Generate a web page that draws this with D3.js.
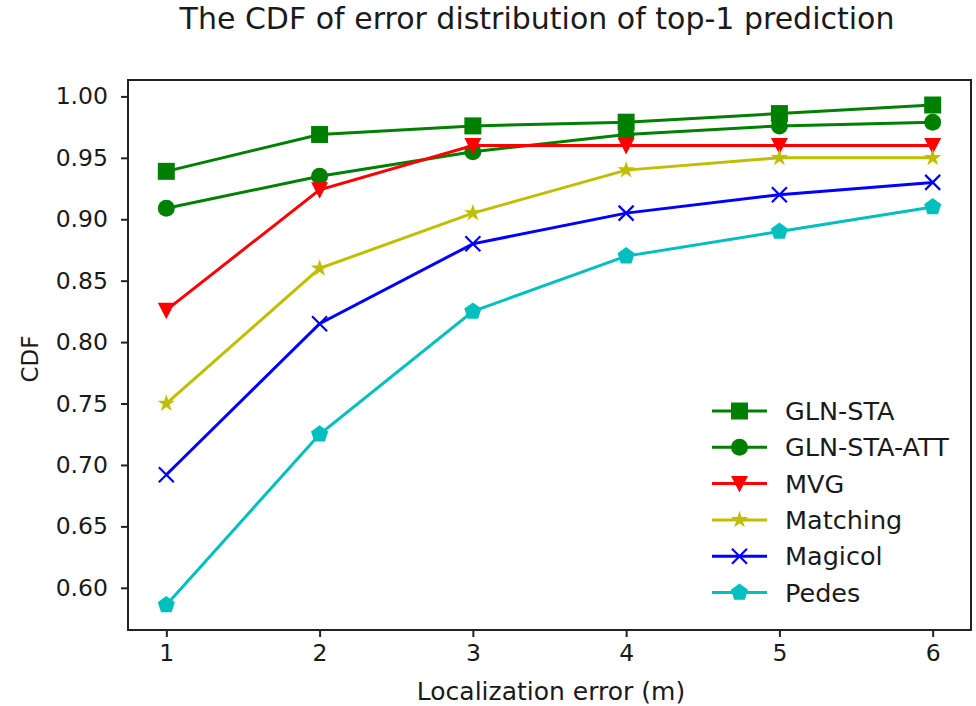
<!DOCTYPE html>
<html>
<head>
<meta charset="utf-8">
<script src="https://cdn.jsdelivr.net/npm/d3@7"></script>
<style>
  html, body { margin: 0; padding: 0; background: #fff; }
  svg { display: block; font-family: "DejaVu Sans", sans-serif; }
</style>
</head>
<body>
<svg id="chart" width="976" height="706"></svg>
<script>
// Localization error in metres (x axis categories)
const errors = [1, 2, 3, 4, 5, 6];

// CDF values per method
const glnSta    = [0.939, 0.969, 0.976, 0.979, 0.986, 0.993];
const glnStaAtt = [0.909, 0.935, 0.955, 0.969, 0.976, 0.979];
const mvg       = [0.826, 0.924, 0.960, 0.960, 0.960, 0.960];
const matching  = [0.750, 0.860, 0.905, 0.940, 0.950, 0.950];
const magicol   = [0.692, 0.815, 0.880, 0.905, 0.920, 0.930];
const pedes     = [0.586, 0.725, 0.825, 0.870, 0.890, 0.910];

const seriesNames = ["GLN-STA", "GLN-STA-ATT", "MVG", "Matching", "Magicol", "Pedes"];
const yTicks = [0.60, 0.65, 0.70, 0.75, 0.80, 0.85, 0.90, 0.95, 1.00];

const series = [
  { name: seriesNames[0], values: glnSta,    color: "#008000", marker: "square" },
  { name: seriesNames[1], values: glnStaAtt, color: "#008000", marker: "circle" },
  { name: seriesNames[2], values: mvg,       color: "#ff0000", marker: "triangleDown" },
  { name: seriesNames[3], values: matching,  color: "#bfbf00", marker: "star" },
  { name: seriesNames[4], values: magicol,   color: "#0000ff", marker: "x" },
  { name: seriesNames[5], values: pedes,     color: "#00bfbf", marker: "pentagon" }
];

const svg = d3.select("#chart");
const plot = { left: 128, right: 971, top: 80, bottom: 630 };
const textColor = "#1a1a1a";

// Domains padded by 5% of the data range on each side
const xMin = d3.min(errors), xMax = d3.max(errors);
const xPad = (xMax - xMin) * 0.05;
const x = d3.scaleLinear().domain([xMin - xPad, xMax + xPad]).range([plot.left, plot.right]);

const allVals = series.flatMap(s => s.values);
const yMin = d3.min(allVals), yMax = d3.max(allVals);
const yPad = (yMax - yMin) * 0.05;
const y = d3.scaleLinear().domain([yMin - yPad, yMax + yPad]).range([plot.bottom, plot.top]);

// Title
svg.append("text")
  .attr("x", 537)
  .attr("y", 29)
  .attr("text-anchor", "middle")
  .attr("font-size", 30)
  .attr("fill", textColor)
  .text("The CDF of error distribution of top-1 prediction");

// Axes
const xAxis = d3.axisBottom(x).tickValues(errors).tickFormat(d3.format("d")).tickSize(7).tickPadding(7);
const yAxis = d3.axisLeft(y).tickValues(yTicks).tickFormat(d3.format(".2f")).tickSize(7).tickPadding(13);

const gx = svg.append("g").attr("transform", `translate(0,${plot.bottom})`).call(xAxis);
const gy = svg.append("g").attr("transform", `translate(${plot.left},0)`).call(yAxis);
[gx, gy].forEach(g => {
  g.select(".domain").remove();
  g.selectAll(".tick line").attr("stroke", "#222").attr("stroke-width", 2);
  g.selectAll(".tick text").attr("font-size", 23.5).attr("fill", textColor)
    .attr("font-family", "DejaVu Sans, sans-serif");
});

// Axis labels
svg.append("text")
  .attr("x", 551)
  .attr("y", 700)
  .attr("text-anchor", "middle")
  .attr("font-size", 25)
  .attr("fill", textColor)
  .text("Localization error (m)");

svg.append("text")
  .attr("transform", `translate(38,${(plot.top + plot.bottom) / 2 + 4}) rotate(-90)`)
  .attr("text-anchor", "middle")
  .attr("font-size", 23)
  .attr("fill", textColor)
  .text("CDF");

// Marker drawing
function drawMarker(g, type, color) {
  switch (type) {
    case "square":
      g.append("path").attr("d", d3.symbol(d3.symbolSquare, 17 * 17)()).attr("fill", color);
      break;
    case "circle":
      g.append("circle").attr("r", 8.5).attr("fill", color);
      break;
    case "triangleDown":
      g.append("path").attr("d", "M-8.5,-7.5 L8.5,-7.5 L0,9 Z").attr("fill", color);
      break;
    case "star":
      g.append("path").attr("d", d3.symbol(d3.symbolStar, 95)()).attr("fill", color);
      break;
    case "x":
      g.append("path").attr("d", "M-7.5,-7.5 L7.5,7.5 M-7.5,7.5 L7.5,-7.5")
        .attr("stroke", color).attr("stroke-width", 2.2).attr("fill", "none");
      break;
    case "pentagon": {
      const r = 9;
      const pts = d3.range(5).map(i => {
        const a = -Math.PI / 2 + i * 2 * Math.PI / 5;
        return [r * Math.cos(a), r * Math.sin(a)];
      });
      g.append("path").attr("d", "M" + pts.join("L") + "Z").attr("fill", color);
      break;
    }
  }
}

// Series lines and markers
const line = d3.line().x((d, i) => x(errors[i])).y(d => y(d));
series.forEach(s => {
  const g = svg.append("g");
  g.append("path")
    .attr("d", line(s.values))
    .attr("fill", "none")
    .attr("stroke", s.color)
    .attr("stroke-width", 3);
  s.values.forEach((v, i) => {
    const m = g.append("g").attr("transform", `translate(${x(errors[i])},${y(v)})`);
    drawMarker(m, s.marker, s.color);
  });
});

// Frame
svg.append("rect")
  .attr("x", plot.left).attr("y", plot.top)
  .attr("width", plot.right - plot.left).attr("height", plot.bottom - plot.top)
  .attr("fill", "none").attr("stroke", "#222").attr("stroke-width", 2);

// Legend
const legend = svg.append("g").attr("transform", "translate(712,411)");
series.forEach((s, i) => {
  const row = legend.append("g").attr("transform", `translate(0,${i * 36.3})`);
  row.append("line").attr("x1", 0).attr("x2", 55).attr("y1", 0).attr("y2", 0)
    .attr("stroke", s.color).attr("stroke-width", 3);
  const m = row.append("g").attr("transform", "translate(27.5,0)");
  drawMarker(m, s.marker, s.color);
  row.append("text").attr("x", 73).attr("y", 0).attr("dy", "0.36em")
    .attr("font-size", 25.5).attr("fill", textColor).text(s.name);
});
</script>
</body>
</html>
